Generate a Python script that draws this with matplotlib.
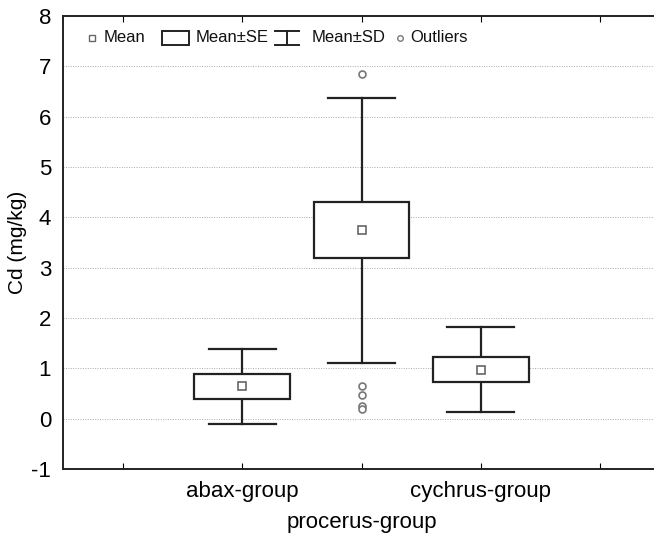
import matplotlib
matplotlib.use('Agg')
import matplotlib.pyplot as plt
from matplotlib.patches import Rectangle
from matplotlib.lines import Line2D
from matplotlib.offsetbox import AnchoredOffsetbox, HPacker, DrawingArea, TextArea

plt.rcParams['font.family'] = ['Liberation Sans', 'DejaVu Sans']
plt.rcParams['axes.unicode_minus'] = False

groups   = ['abax-group', 'procerus-group', 'cychrus-group']
means    = [0.65, 3.75, 0.97]
se_lo    = [0.40, 3.20, 0.72]
se_hi    = [0.89, 4.30, 1.23]
sd_lo    = [-0.10, 1.11, 0.14]
sd_hi    = [1.39, 6.38, 1.82]
outliers = [[], [6.84, 0.64, 0.48, 0.26, 0.20], []]
legend_labels = ['Mean', 'Mean\u00b1SE', 'Mean\u00b1SD', 'Outliers']

fig = plt.figure(figsize=(6.54, 5.36), dpi=100)
ax = fig.add_axes([63/654, 67/536, 597/654, 453/536])

ink = '#222222'
box_w = 0.80
cap_w = 0.56
pos = [1, 2, 3]
for i, x in enumerate(pos):
    ax.plot([x, x], [sd_lo[i], se_lo[i]], color=ink, lw=1.6, zorder=3)
    ax.plot([x, x], [se_hi[i], sd_hi[i]], color=ink, lw=1.6, zorder=3)
    ax.plot([x-cap_w/2, x+cap_w/2], [sd_lo[i], sd_lo[i]], color=ink, lw=1.6, zorder=3)
    ax.plot([x-cap_w/2, x+cap_w/2], [sd_hi[i], sd_hi[i]], color=ink, lw=1.6, zorder=3)
    ax.add_patch(Rectangle((x-box_w/2, se_lo[i]), box_w, se_hi[i]-se_lo[i],
                           facecolor='white', edgecolor=ink, lw=1.6, zorder=4))
    ax.plot(x, means[i], 's', ms=5.5, mfc='white', mec='#666666', mew=1.2, zorder=5)
    if outliers[i]:
        ax.plot([x]*len(outliers[i]), outliers[i], 'o', ms=5, mfc='white',
                mec='#777777', mew=1.2, zorder=5)

ax.set_xlim(-0.5, 4.5)
ax.set_ylim(-1, 8)
ax.set_yticks(range(-1, 9))
ax.set_xticks(range(0, 5))
ax.set_xticklabels(['', groups[0], groups[1], groups[2], ''])
ax.tick_params(axis='x', direction='in', length=4, top=True, pad=9, labelsize=16)
ax.tick_params(axis='y', direction='in', length=0, pad=8.5, labelsize=16)
# staggered middle label (second row)
ax.xaxis.get_major_ticks()[2].set_pad(31)
ax.yaxis.grid(True, linestyle=(0, (1, 1.5)), color='#aaaaaa', lw=0.7)
ax.set_axisbelow(True)
for s in ax.spines.values():
    s.set_linewidth(1.4)
    s.set_color(ink)
ax.set_ylabel('Cd (mg/kg)', fontsize=15, labelpad=3)

# legend built by hand (Statistica style spacing), sizes in px -> pt
k = 0.72
h = 16 * k
da_mean = DrawingArea(18*k, h)
da_mean.add_artist(Line2D([6*k], [h/2], ls='none', marker='s', ms=5, mfc='white',
                          mec='#666666', mew=1.0))
da_se = DrawingArea(50*k, h)
da_se.add_artist(Rectangle((16*k, 0.5), 27*k, h-1, facecolor='white', edgecolor=ink, lw=1.4))
da_sd = DrawingArea(43*k, h)
for xs, ys in [([6*k, 30*k], [h-0.5, h-0.5]), ([18*k, 18*k], [0.5, h-0.5]),
               ([6*k, 30*k], [0.5, 0.5])]:
    da_sd.add_artist(Line2D(xs, ys, color=ink, lw=1.4))
da_out = DrawingArea(25*k, h)
da_out.add_artist(Line2D([14*k], [h/2], ls='none', marker='o', ms=4, mfc='white',
                         mec='#777777', mew=1.0))
items = []
for da, lab in zip([da_mean, da_se, da_sd, da_out], legend_labels):
    items += [da, TextArea(lab, textprops=dict(fontsize=12, color='#111111'))]
pack = HPacker(children=items, align='center', pad=0, sep=0)
leg = AnchoredOffsetbox(loc='center left', child=pack, pad=0, borderpad=0, frameon=False,
                        bbox_to_anchor=((86-63)/597, 1 - 22/453), bbox_transform=ax.transAxes)
ax.add_artist(leg)

fig.savefig('out.png', dpi=100)
